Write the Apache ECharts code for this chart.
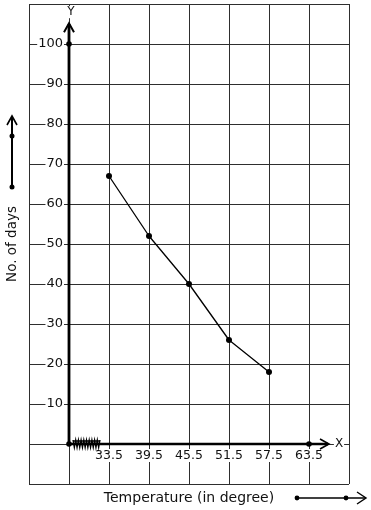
<!DOCTYPE html>
<html><head><meta charset="utf-8">
<script src="https://cdn.jsdelivr.net/npm/echarts@6/dist/echarts.min.js"></script>
<style>html,body{margin:0;padding:0;background:#fff}#c{width:371px;height:510px}</style>
</head><body><div id="c"></div>
<script>
// ---- data ----
const xCategories = ['21.5','27.5','33.5','39.5','45.5','51.5','57.5','63.5','69.5'];
const xTickLabels = ['33.5','39.5','45.5','51.5','57.5','63.5'];
const temperatures = ['33.5','39.5','45.5','51.5','57.5'];
const noOfDays = [67, 52, 40, 26, 18];
const yTickLabels = [10, 20, 30, 40, 50, 60, 70, 80, 90, 100];
const yMin = -10, yMax = 110, yStep = 10;
const originCategory = '27.5';
const markedYValue = 100;
const markedXCategory = '63.5';
const yArrowValue = 105.2;
const xAxisTitle = 'Temperature (in degree)';
const yAxisTitle = 'No. of days';

// ---- styles ----
const FONT = 'DejaVu Sans';
const INK = '#111';
const GRIDC = '#2e2e2e';

const chart = echarts.init(document.getElementById('c'), null, {renderer: 'canvas'});

function buildOption(xOffset, yOffset, graphic) {
  return {
    animation: false,
    backgroundColor: '#fff',
    grid: {left: 29, right: 22, top: 4, bottom: 26, containLabel: false, outerBoundsMode: 'none'},
    xAxis: {
      type: 'category', data: xCategories, boundaryGap: false, offset: xOffset,
      axisLine: {show: false}, axisTick: {show: false},
      splitLine: {show: true, lineStyle: {color: GRIDC, width: 1}},
      axisLabel: {
        interval: 0, margin: 5, fontFamily: FONT, fontSize: 12.5, color: INK,
        backgroundColor: '#fff', padding: [0, 1],
        formatter: v => xTickLabels.indexOf(v) >= 0 ? v : ''
      },
      name: xAxisTitle, nameLocation: 'middle', nameGap: 47,
      nameTextStyle: {fontFamily: FONT, fontSize: 14, color: INK}
    },
    yAxis: {
      type: 'value', min: yMin, max: yMax, interval: yStep, offset: yOffset,
      axisLine: {show: false}, axisTick: {show: false},
      splitLine: {show: true, lineStyle: {color: GRIDC, width: 1}},
      axisLabel: {
        margin: 5, fontFamily: FONT, fontSize: 13, color: INK,
        backgroundColor: '#fff', padding: [0, 1],
        formatter: v => yTickLabels.indexOf(v) >= 0 ? String(v) : ''
      },
      name: yAxisTitle, nameLocation: 'middle', nameGap: 50, nameRotate: 90,
      nameTextStyle: {fontFamily: FONT, fontSize: 13.5, color: INK}
    },
    series: [{
      type: 'line', data: temperatures.map((t, i) => [t, noOfDays[i]]),
      symbol: 'circle', symbolSize: 6, showSymbol: true,
      itemStyle: {color: '#000'}, lineStyle: {color: '#000', width: 1.3},
      z: 5
    }],
    graphic: graphic || []
  };
}

chart.setOption(buildOption(0, 0));
const cv = (c, v) => chart.convertToPixel({xAxisIndex: 0, yAxisIndex: 0}, [c, v]);
const o = cv(originCategory, 0);
const corner = cv(xCategories[0], yMin);
chart.setOption(buildOption(-(corner[1] - o[1]), -(o[0] - corner[0])));

const O = cv(originCategory, 0);
const yTop = cv(originCategory, yArrowValue);
const p100 = cv(originCategory, markedYValue);
const pX = cv(markedXCategory, 0);
const pLast = cv(xCategories[xCategories.length - 1], 0);
const xEnd = [pX[0] + (pLast[0] - pX[0]) * 0.5, O[1]];

const dot = (p, r) => ({type: 'circle', shape: {cx: p[0], cy: p[1], r: r || 2.8}, style: {fill: '#000'}, z: 20});
const g = [];
// Y axis with open arrow
g.push({type: 'line', shape: {x1: O[0], y1: O[1], x2: yTop[0], y2: yTop[1] + 1}, style: {stroke: '#000', lineWidth: 2.8}, z: 10});
g.push({type: 'polyline', shape: {points: [[yTop[0] - 5, yTop[1] + 9], [yTop[0], yTop[1]], [yTop[0] + 5, yTop[1] + 9]]}, style: {stroke: '#000', lineWidth: 2, fill: null}, z: 10});
g.push({type: 'text', x: yTop[0] + 2, y: yTop[1] - 11, style: {text: 'Y', fontFamily: FONT, fontSize: 12, fill: INK, align: 'center', verticalAlign: 'middle', backgroundColor: '#fff'}, z: 10});
// X axis with open arrow
g.push({type: 'line', shape: {x1: O[0], y1: O[1], x2: xEnd[0] - 1, y2: xEnd[1]}, style: {stroke: '#000', lineWidth: 2.6}, z: 10});
g.push({type: 'polyline', shape: {points: [[xEnd[0] - 9, xEnd[1] - 5], [xEnd[0], xEnd[1]], [xEnd[0] - 9, xEnd[1] + 5]]}, style: {stroke: '#000', lineWidth: 1.6, fill: null}, z: 10});
g.push({type: 'text', x: xEnd[0] + 10, y: xEnd[1], style: {text: 'X', fontFamily: FONT, fontSize: 12, fill: INK, align: 'center', verticalAlign: 'middle', backgroundColor: '#fff', padding: [0, 1]}, z: 10});
// axis break zigzag
const zz = [];
for (let i = 0; i <= 20; i++) zz.push([O[0] + 4 + i * 1.35, O[1] + (i % 2 ? 3.5 : -4)]);
g.push({type: 'polyline', shape: {points: zz}, style: {stroke: '#000', lineWidth: 1.3, fill: null}, z: 11});
g.push({type: 'line', shape: {x1: O[0] + 4, y1: O[1] - 3, x2: O[0] + 31, y2: O[1] - 3}, style: {stroke: '#000', lineWidth: 1.5}, z: 11});
// dots
g.push(dot(O), dot(p100), dot(pX));
// decorative arrow beside y title
g.push({type: 'line', shape: {x1: 12, y1: 187, x2: 12, y2: 116}, style: {stroke: '#000', lineWidth: 2}, z: 10});
g.push({type: 'polyline', shape: {points: [[7, 125], [12, 116], [17, 125]]}, style: {stroke: '#000', lineWidth: 1.6, fill: null}, z: 10});
g.push(dot([12, 136], 2.5), dot([12, 187], 2.5));
// decorative arrow beside x title
g.push({type: 'line', shape: {x1: 297, y1: 498, x2: 365, y2: 498}, style: {stroke: '#000', lineWidth: 1.6}, z: 10});
g.push({type: 'polyline', shape: {points: [[357, 492], [366, 498], [357, 504]]}, style: {stroke: '#000', lineWidth: 1.4, fill: null}, z: 10});
g.push(dot([297, 498], 2.4), dot([346, 498], 2.4));

chart.setOption({graphic: g});
</script></body></html>
